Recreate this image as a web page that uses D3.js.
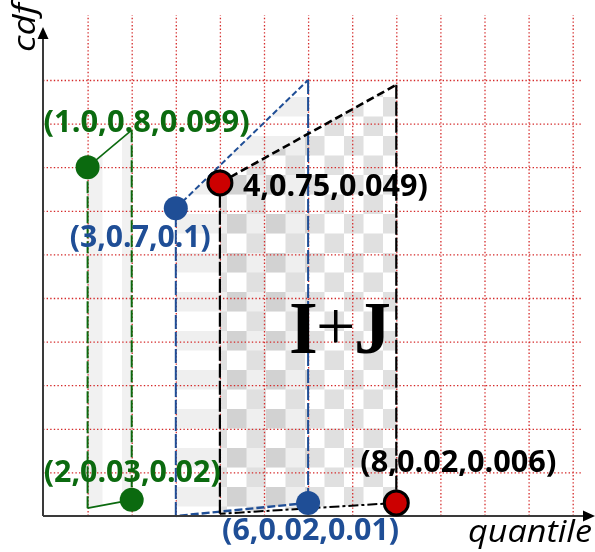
<!DOCTYPE html>
<html>
<head>
<meta charset="utf-8">
<style>
  body { margin: 0; background: #fff; }
  svg { display: block; }
</style>
</head>
<body>
<svg width="595" height="552"></svg>
<script src="https://d3js.org/d3.v7.min.js"></script>
<script>
    // corners of each region as (quantile, cdf); corners 0 and 2 carry the dots
    const greenQuad = [[1, 0.80], [2, 0.885], [2, 0.037], [1, 0.018]];
    const blueQuad = [[3, 0.706], [6, 1.0], [6, 0.03], [3, 0.0]];
    const blackQuad = [[4, 0.764], [8, 0.989], [8, 0.03], [4, 0.005]];

    const greenLabels = ["(1.0,0.8,0.099)", "(2,0.03,0.02)"];
    const blueLabels = ["(3,0.7,0.1)", "(6,0.02,0.01)"];
    const blackLabels = ["4,0.75,0.049)", "(8,0.02,0.006)"];

    const gridQuantiles = [1, 2, 3, 4, 5, 6, 7, 8, 9, 10, 11, 12];
    const gridCdf = [0.1, 0.2, 0.3, 0.4, 0.5, 0.6, 0.7, 0.8, 0.9, 1.0];

    const svg = d3.select("svg");
    const x = d3.scaleLinear().domain([0, 12]).range([43.5, 43.5 + 12 * 44.1]);
    const y = d3.scaleLinear().domain([0, 1]).range([516, 80]);

    const GREEN = "#0b6a0f", BLUE = "#1f4e96", RED = "#cc0000";

    // patterns for the shaded areas
    const defs = svg.append("defs");
    const sq = 19.5;
    const checker = defs.append("pattern").attr("id", "checker")
        .attr("patternUnits", "userSpaceOnUse").attr("x", 227).attr("y", 214)
        .attr("width", sq * 2).attr("height", sq * 2);
    checker.append("rect").attr("width", sq).attr("height", sq).attr("fill", "#e0e0e0");
    checker.append("rect").attr("x", sq).attr("y", sq).attr("width", sq).attr("height", sq).attr("fill", "#e0e0e0");

    const hstripe = defs.append("pattern").attr("id", "hstripe")
        .attr("patternUnits", "userSpaceOnUse").attr("x", 0).attr("y", 214)
        .attr("width", sq * 2).attr("height", sq * 2);
    hstripe.append("rect").attr("width", sq * 2).attr("height", sq).attr("fill", "#efefef");

    const vstripe = defs.append("pattern").attr("id", "vstripe")
        .attr("patternUnits", "userSpaceOnUse").attr("x", 83).attr("y", 0)
        .attr("width", sq * 2).attr("height", sq * 2);
    vstripe.append("rect").attr("width", sq).attr("height", sq * 2).attr("fill", "#f1f1f1");

    const line = d3.line().x(d => x(d[0])).y(d => y(d[1]));

    const fills = svg.append("g");
    [[blackQuad, "url(#checker)"], [blueQuad, "url(#hstripe)"], [greenQuad, "url(#vstripe)"]]
        .forEach(([q, f]) => {
            fills.append("path")
                .attr("d", line(q) + "Z")
                .attr("fill", f)
                .style("mix-blend-mode", "multiply");
        });

    // red dotted grid
    svg.append("g")
        .attr("class", "grid")
        .attr("transform", "translate(0,516)")
        .call(d3.axisBottom(x).tickValues(gridQuantiles).tickSize(-501).tickFormat(""));
    svg.append("g")
        .attr("class", "grid")
        .attr("transform", "translate(43,0)")
        .call(d3.axisLeft(y).tickValues(gridCdf).tickSize(-540).tickFormat(""));
    svg.selectAll(".grid .domain").remove();
    svg.selectAll(".grid line")
        .attr("stroke", "#d42a2a")
        .attr("stroke-width", 1.3)
        .attr("stroke-dasharray", "1.4,2.2");

    // region outlines: top, right, bottom, left
    const edges = svg.append("g").attr("fill", "none");
    function outline(q, color, styles) {
        styles.forEach((s, i) => {
            edges.append("path")
                .attr("d", line([q[i], q[(i + 1) % 4]]))
                .attr("stroke", color)
                .attr("stroke-width", s.w)
                .attr("stroke-dasharray", s.dash);
        });
    }
    outline(greenQuad, GREEN, [
        { w: 1.6, dash: null }, { w: 2, dash: "12,3" },
        { w: 1.6, dash: null }, { w: 2, dash: "12,3" }]);
    outline(blueQuad, BLUE, [
        { w: 2, dash: "6,3" }, { w: 2, dash: "14,3" },
        { w: 2.4, dash: "8,3" }, { w: 2, dash: "14,3" }]);
    outline(blackQuad, "#000", [
        { w: 2.6, dash: "8,4" }, { w: 2.2, dash: "14,3" },
        { w: 2, dash: "10,3,3,3" }, { w: 2.2, dash: "14,3" }]);

    // axes with arrow heads
    const ax = svg.append("g");
    ax.append("path").attr("d", `M${x(0) - 0.5},${y(0)}V36`)
        .attr("stroke", "#3a3a3a").attr("stroke-width", 2);
    ax.append("path").attr("d", `M${x(0) - 0.5},${y(0)}H587`)
        .attr("stroke", "#3a3a3a").attr("stroke-width", 2);
    ax.append("path").attr("d", `M${x(0) - 0.5},27L${x(0) + 5},39L${x(0) - 6},39Z`).attr("fill", "#000");
    ax.append("path").attr("d", `M595,${y(0)}L583,${y(0) - 5.5}L583,${y(0) + 5.5}Z`).attr("fill", "#000");

    // dots
    const dots = [
        [greenQuad[0], GREEN, null], [greenQuad[2], GREEN, null],
        [blueQuad[0], BLUE, null], [blueQuad[2], BLUE, null],
        [blackQuad[0], RED, "#000"], [blackQuad[2], RED, "#000"]
    ];
    svg.append("g").selectAll("circle")
        .data(dots)
        .join("circle")
        .attr("cx", d => x(d[0][0]))
        .attr("cy", d => y(d[0][1]))
        .attr("r", 12)
        .attr("fill", d => d[1])
        .attr("stroke", d => d[2])
        .attr("stroke-width", d => d[2] ? 3 : 0);

    // labels: offset from their dot, width of the text
    const labels = [
        [greenLabels[0], greenQuad[0], GREEN, -44, -35, 206],
        [greenLabels[1], greenQuad[2], GREEN, -88, -18, 177],
        [blueLabels[0], blueQuad[0], BLUE, -106, 39, 141],
        [blueLabels[1], blueQuad[2], BLUE, -86, 37, 177],
        [blackLabels[0], blackQuad[0], "#000", 23, 13, 185],
        [blackLabels[1], blackQuad[2], "#000", -36, -31, 196]
    ];
    svg.append("g").selectAll("text")
        .data(labels)
        .join("text")
        .attr("x", d => x(d[1][0]) + d[3])
        .attr("y", d => y(d[1][1]) + d[4])
        .attr("textLength", d => d[5])
        .attr("lengthAdjust", "spacingAndGlyphs")
        .attr("fill", d => d[2])
        .style("font-family", "'Open Sans', sans-serif")
        .style("font-weight", 700)
        .style("font-size", "30px")
        .text(d => d[0]);

    // I+J, three pieces so the plus stays thin
    const ijStyle = sel => sel
        .style("font-family", "'Liberation Serif', serif")
        .attr("y", y(0.374));
    svg.append("text").call(ijStyle)
        .attr("x", 289).style("font-weight", 700).style("font-size", "74px").text("I");
    svg.append("text").call(ijStyle)
        .attr("x", 316).style("font-size", "70px").attr("dy", -3).text("+");
    svg.append("text").call(ijStyle)
        .attr("x", 354).style("font-weight", 700).style("font-size", "74px").text("J");

    // axis titles
    svg.append("text")
        .attr("transform", "translate(35,52) rotate(-90)")
        .attr("textLength", 49)
        .attr("lengthAdjust", "spacingAndGlyphs")
        .style("font-family", "'Open Sans', sans-serif")
        .style("font-style", "italic")
        .style("font-size", "31px")
        .text("cdf");
    svg.append("text")
        .attr("x", 468)
        .attr("y", 542)
        .attr("textLength", 124)
        .attr("lengthAdjust", "spacingAndGlyphs")
        .style("font-family", "'Open Sans', sans-serif")
        .style("font-style", "italic")
        .style("font-size", "31px")
        .text("quantile");
</script>
</body>
</html>
